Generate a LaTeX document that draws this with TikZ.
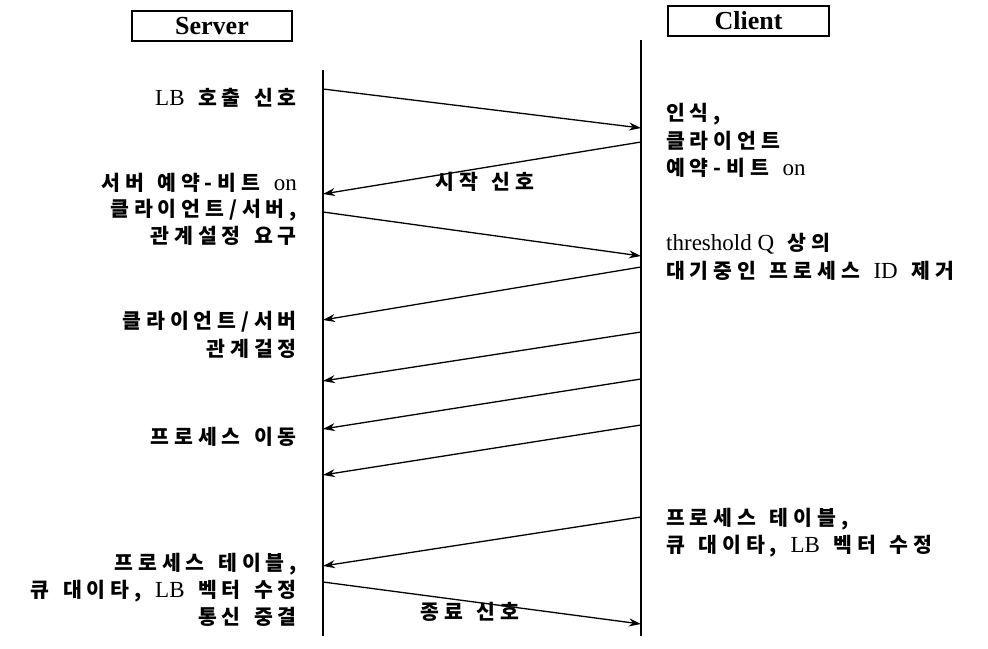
\documentclass[tikz,border=0pt]{standalone}
\usepackage{fontspec}
\setmainfont{Liberation Serif}
\newfontfamily\kr{Noto Sans CJK KR}[LetterSpace=24, WordSpace=1.4]
\newcommand\K[1]{{\kr\bfseries\fontsize{20.5}{27}\selectfont #1}}
\usetikzlibrary{arrows.meta}

\tikzset{
  lifeline/.style={line width=1.5pt},
  msg/.style={line width=1.3pt, -{Stealth[length=12pt,width=8pt]}},
  headbox/.style={draw, line width=1.4pt, inner sep=0pt,
    font=\fontsize{26}{28}\selectfont\bfseries},
  lbl/.style={inner sep=0pt, font=\fontsize{23}{27}\selectfont},
  lleft/.style={lbl, anchor=base east},
  lright/.style={lbl, anchor=base west},
  lmid/.style={lbl, anchor=base},
}

\begin{document}
\begin{tikzpicture}[x=1pt, y=-1pt]
  \useasboundingbox (0,0) rectangle (988,648);
  \fill[white] (0,0) rectangle (988,648);

  % column headers
  \node[headbox, minimum width=160pt, minimum height=30pt] (server) at (212,26) {Server};
  \node[headbox, minimum width=161pt, minimum height=30pt] (client) at (748.5,21) {Client};

  % lifelines
  \coordinate (st) at (323,70);  \coordinate (sb) at (323,636);
  \coordinate (ct) at (641,40);  \coordinate (cb) at (641,636);
  \draw[lifeline] (st) -- (sb);
  \draw[lifeline] (ct) -- (cb);

  % message end points on the lifelines
  \coordinate (s1) at (323,89);  \coordinate (c1) at (641,128);
  \coordinate (c2) at (641,142); \coordinate (s2) at (323,194);
  \coordinate (s3) at (323,212); \coordinate (c3) at (641,256);
  \coordinate (c4) at (641,267); \coordinate (s4) at (323,320);
  \coordinate (c5) at (641,332); \coordinate (s5) at (323,381);
  \coordinate (c6) at (641,379); \coordinate (s6) at (323,429);
  \coordinate (c7) at (641,425); \coordinate (s7) at (323,475);
  \coordinate (c8) at (641,517); \coordinate (s8) at (323,566);
  \coordinate (s9) at (323,582); \coordinate (c9) at (641,624);

  % messages
  \draw[msg] (s1) -- (c1);
  \draw[msg] (c2) -- (s2);
  \draw[msg] (s3) -- (c3);
  \draw[msg] (c4) -- (s4);
  \draw[msg] (c5) -- (s5);
  \draw[msg] (c6) -- (s6);
  \draw[msg] (c7) -- (s7);
  \draw[msg] (c8) -- (s8);
  \draw[msg] (s9) -- (c9);

  % server side notes
  \node[lleft] (l1)  at (297,105) {LB\K{ 호출 신호}};
  \node[lleft] (l2)  at (297,190) {\K{서버 예약-비트 }on};
  \node[lleft] (l3)  at (297,216) {\K{클라이언트/서버,}};
  \node[lleft] (l4)  at (297,243) {\K{관계설정 요구}};
  \node[lleft] (l5)  at (297,328) {\K{클라이언트/서버}};
  \node[lleft] (l6)  at (297,356) {\K{관계걸정}};
  \node[lleft] (l7)  at (297,444) {\K{프로세스 이동}};
  \node[lleft] (l8)  at (297,570) {\K{프로세스 테이블,}};
  \node[lleft] (l9)  at (297,597) {\K{큐 대이타, }LB\K{ 벡터 수정}};
  \node[lleft] (l10) at (297,624) {\K{통신 중결}};

  % client side notes
  \node[lright] (r1) at (666,120) {\K{인식,}};
  \node[lright] (r2) at (666,148) {\K{클라이언트}};
  \node[lright] (r3) at (666,175) {\K{예약-비트 }on};
  \node[lright] (r4) at (666,250) {threshold Q\K{ 상의}};
  \node[lright] (r5) at (666,278) {\K{대기중인 프로세스 }ID\K{ 제거}};
  \node[lright] (r6) at (666,525) {\K{프로세스 테이블,}};
  \node[lright] (r7) at (666,552) {\K{큐 대이타, }LB\K{ 벡터 수정}};

  % message labels
  \node[lmid] (m1) at (485,189) {\K{시작 신호}};
  \node[lmid] (m2) at (470,619) {\K{종료 신호}};
\end{tikzpicture}
\end{document}
